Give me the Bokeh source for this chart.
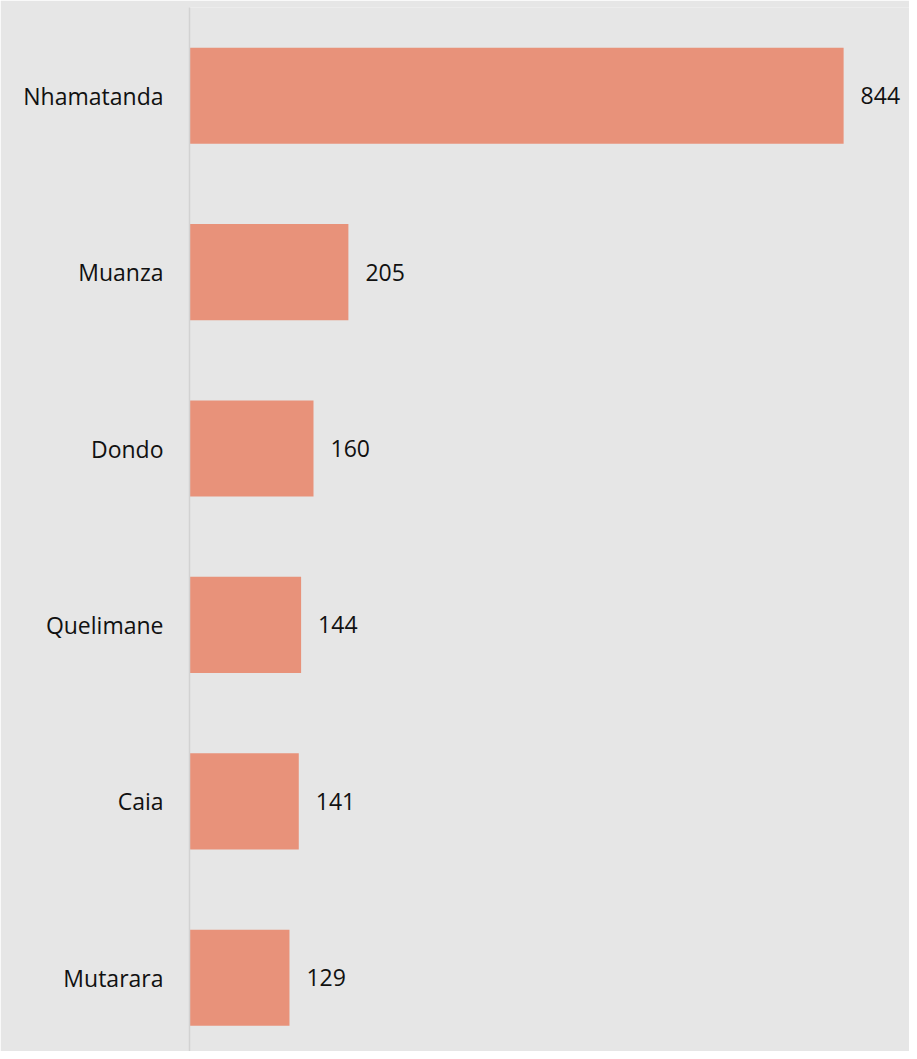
from bokeh.plotting import figure
from bokeh.models import ColumnDataSource, Range1d, LabelSet, FixedTicker
from bokeh.core.properties import value
from bokeh.embed import file_html
from bokeh.resources import INLINE

districts = ["Nhamatanda", "Muanza", "Dondo", "Quelimane", "Caia", "Mutarara"]
counts = [844, 205, 160, 144, 141, 129]

BG = "#e6e6e6"
BAR = "#e8927a"
FONT = "Open Sans"

n = len(districts)
ypos = [n - i - 0.5 for i in range(n)]  # first district at top

src = ColumnDataSource(dict(
    y=ypos,
    count=counts,
    label=[str(c) for c in counts],
))

p = figure(
    width=909, height=1051,
    y_range=Range1d(0.082, 6.0),
    x_range=Range1d(0, 929),
    output_backend="svg", toolbar_location=None,
    min_border_left=189, min_border_right=0, min_border_top=7, min_border_bottom=0,
    background_fill_color=BG, border_fill_color=BG, outline_line_color=None,
)

p.hbar(y="y", right="count", left=0, height=0.545, source=src,
       fill_color=BAR, line_color=None)

labels = LabelSet(x="count", y="y", text="label", source=src,
                  x_offset=17, text_baseline="middle", text_align="left",
                  text_font=value(FONT), text_font_size=value("23px"),
                  text_color="#111111")
p.add_layout(labels)

p.xaxis.visible = False
p.xgrid.visible = False
p.ygrid.visible = False

ya = p.yaxis[0]
ya.ticker = FixedTicker(ticks=ypos)
ya.major_label_overrides = {y: d for y, d in zip(ypos, districts)}
ya.axis_line_color = "#d2d2d2"
ya.axis_line_width = 1.5
ya.major_tick_line_color = None
ya.minor_tick_line_color = None
ya.major_tick_out = 0
ya.major_tick_in = 0
ya.major_label_standoff = 26
ya.major_label_text_font = FONT
ya.major_label_text_font_size = "23px"
ya.major_label_text_color = "#111111"
ya.major_label_text_font_style = "normal"

html = file_html(p, INLINE)
html = html.replace("<body>", '<body style="background:%s">' % BG, 1)
open("out.html", "w").write(html)
